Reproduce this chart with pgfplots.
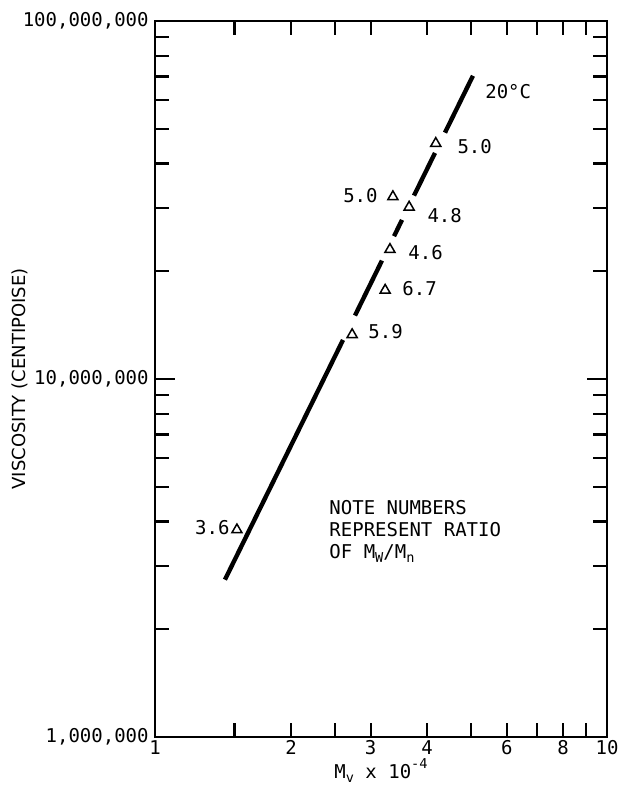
\documentclass[border=0pt]{standalone}
\usepackage{pgfplots}
\pgfplotsset{compat=1.18}
\usepackage{fontspec}
\setmainfont{DejaVu Sans Mono}
\newfontfamily\sansf{DejaVu Sans}
\newcommand\subs[1]{\raisebox{-0.45ex}{\fontsize{6.8pt}{7pt}\selectfont #1}}
\newcommand\sups[1]{\raisebox{0.9ex}{\fontsize{6.8pt}{7pt}\selectfont #1}}
\begin{document}
\begin{tikzpicture}
\useasboundingbox (-77.5pt,-24pt) rectangle (233pt,368.5pt);
\begin{axis}[
  at={(0pt,0pt)}, anchor=south west,
  scale only axis, width=226pt, height=358pt,
  xmode=log, ymode=log,
  xmin=1, xmax=10, ymin=1e6, ymax=1e8,
  xtick={1,2,3,4,6,8,10},
  xticklabels={1,2,3,4,6,8,10},
  minor xtick={1.5,2.5,5,7,9},
  ytick={1e6,1e8},
  yticklabels={{1,000,000},{100,000,000}},
  extra y ticks={1e7},
  extra y tick labels={10{,}000{,}000},
  extra tick style={major tick length=10pt},
  minor ytick={2e6,3e6,4e6,5e6,6e6,7e6,8e6,9e6,2e7,3e7,4e7,5e7,6e7,7e7,8e7,9e7},
  major tick length=7pt, minor tick length=7pt,
  tick align=inside,
  tick style={line width=1.1pt, black},
  axis line style={line width=1.3pt},
  ticklabel style={font=\fontsize{9.5pt}{11pt}\selectfont},
  xticklabel style={inner sep=1.5pt},
  yticklabel style={inner sep=2pt, xshift=-1pt},
  xlabel={M\subs{v} x 10\sups{-4}},
  xlabel style={at={(axis description cs:0.5,0)}, anchor=center, yshift=-17pt, font=\fontsize{9.5pt}{11pt}\selectfont},
  ylabel={VISCOSITY (CENTIPOISE)},
  ylabel style={at={(axis description cs:0,0.5)}, anchor=center, yshift=67.5pt, font=\sansf\fontsize{9pt}{11pt}\selectfont},
  unbounded coords=jump,
  clip=false,
]
% fitted line, broken at the data points
\addplot[black, line width=2.2pt] coordinates {
  (1.428,2.75e6) (2.606,1.285e7) (nan,nan)
  (2.770,1.504e7) (3.178,2.141e7) (nan,nan)
  (3.380,2.505e7) (3.520,2.782e7) (nan,nan)
  (3.741,3.252e7) (4.164,4.28e7) (nan,nan)
  (4.381,4.876e7) (5.052,7.03e7)
};
% data points
\addplot[only marks, mark=triangle, mark size=2.9pt, mark options={line width=0.75pt, black}] coordinates {
  (1.518,3.79e6)
  (2.73,1.33e7)
  (3.23,1.77e7)
  (3.31,2.30e7)
  (3.65,3.02e7)
  (3.36,3.23e7)
  (4.18,4.55e7)
};
\begin{scope}[every node/.style={inner sep=0pt, font=\fontsize{9.5pt}{11pt}\selectfont}]
\node[anchor=west] at (axis cs:5.37,6.33e7) {20°C};
\node[anchor=west] at (axis cs:4.66,4.46e7) {5.0};
\node[anchor=east] at (axis cs:3.114,3.25e7) {5.0};
\node[anchor=west] at (axis cs:4.00,2.86e7) {4.8};
\node[anchor=west] at (axis cs:3.63,2.26e7) {4.6};
\node[anchor=west] at (axis cs:3.52,1.79e7) {6.7};
\node[anchor=west] at (axis cs:2.96,1.356e7) {5.9};
\node[anchor=east] at (axis cs:1.465,3.84e6) {3.6};
\node[anchor=north west, align=left] at (axis cs:2.427,4.6e6) {NOTE NUMBERS\\REPRESENT RATIO\\OF M\subs{W}/M\subs{n}};
\end{scope}
\end{axis}
\end{tikzpicture}
\end{document}
